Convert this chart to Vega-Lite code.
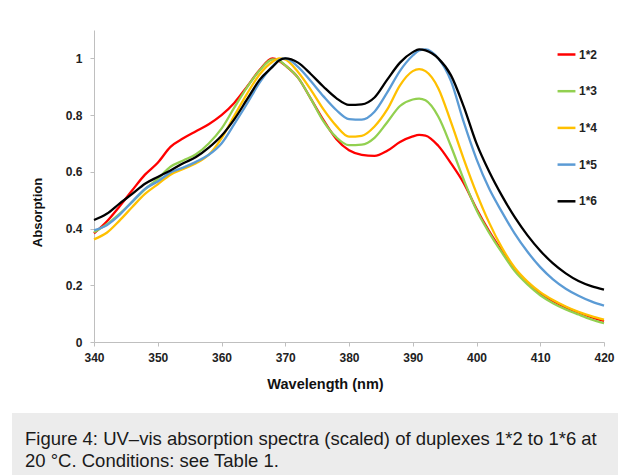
{
  "$schema": "https://vega.github.io/schema/vega-lite/v6.json",
  "background": "white",
  "padding": {"left": 12, "top": 30, "right": 0, "bottom": 0},
  "config": {"view": {"stroke": null}, "font": "Liberation Sans"},
  "spacing": 22,
  "resolve": {"scale": {"color": "independent"}, "legend": {"color": "independent"}},
  "vconcat": [
    {
      "spacing": 18,
      "resolve": {"scale": {"color": "independent"}, "legend": {"color": "independent"}},
      "hconcat": [
        {"width": 1, "height": 312, "data": {"values": []}, "mark": "point"},
        {
          "width": 510,
          "height": 312,
          "data": {"values": [
{"wavelength":340,"duplex":"1*2","absorption":0.383},{"wavelength":342,"duplex":"1*2","absorption":0.425},{"wavelength":344,"duplex":"1*2","absorption":0.478},{"wavelength":346,"duplex":"1*2","absorption":0.535},{"wavelength":348,"duplex":"1*2","absorption":0.59},{"wavelength":350,"duplex":"1*2","absorption":0.632},{"wavelength":352,"duplex":"1*2","absorption":0.688},{"wavelength":354,"duplex":"1*2","absorption":0.718},{"wavelength":356,"duplex":"1*2","absorption":0.743},{"wavelength":358,"duplex":"1*2","absorption":0.768},{"wavelength":360,"duplex":"1*2","absorption":0.8},{"wavelength":362,"duplex":"1*2","absorption":0.843},{"wavelength":364,"duplex":"1*2","absorption":0.9},{"wavelength":366,"duplex":"1*2","absorption":0.96},{"wavelength":368,"duplex":"1*2","absorption":1.0},{"wavelength":369,"duplex":"1*2","absorption":0.992},{"wavelength":370,"duplex":"1*2","absorption":0.975},{"wavelength":372,"duplex":"1*2","absorption":0.932},{"wavelength":374,"duplex":"1*2","absorption":0.858},{"wavelength":376,"duplex":"1*2","absorption":0.782},{"wavelength":378,"duplex":"1*2","absorption":0.716},{"wavelength":380,"duplex":"1*2","absorption":0.676},{"wavelength":382,"duplex":"1*2","absorption":0.66},{"wavelength":384,"duplex":"1*2","absorption":0.656},{"wavelength":386,"duplex":"1*2","absorption":0.674},{"wavelength":388,"duplex":"1*2","absorption":0.705},{"wavelength":390,"duplex":"1*2","absorption":0.725},{"wavelength":391,"duplex":"1*2","absorption":0.73},{"wavelength":392,"duplex":"1*2","absorption":0.728},{"wavelength":394,"duplex":"1*2","absorption":0.692},{"wavelength":396,"duplex":"1*2","absorption":0.63},{"wavelength":398,"duplex":"1*2","absorption":0.56},{"wavelength":400,"duplex":"1*2","absorption":0.47},{"wavelength":402,"duplex":"1*2","absorption":0.39},{"wavelength":404,"duplex":"1*2","absorption":0.32},{"wavelength":406,"duplex":"1*2","absorption":0.255},{"wavelength":408,"duplex":"1*2","absorption":0.208},{"wavelength":410,"duplex":"1*2","absorption":0.172},{"wavelength":412,"duplex":"1*2","absorption":0.145},{"wavelength":414,"duplex":"1*2","absorption":0.122},{"wavelength":416,"duplex":"1*2","absorption":0.104},{"wavelength":418,"duplex":"1*2","absorption":0.088},{"wavelength":420,"duplex":"1*2","absorption":0.074},
{"wavelength":340,"duplex":"1*3","absorption":0.387},{"wavelength":342,"duplex":"1*3","absorption":0.415},{"wavelength":344,"duplex":"1*3","absorption":0.452},{"wavelength":346,"duplex":"1*3","absorption":0.494},{"wavelength":348,"duplex":"1*3","absorption":0.538},{"wavelength":350,"duplex":"1*3","absorption":0.575},{"wavelength":352,"duplex":"1*3","absorption":0.618},{"wavelength":354,"duplex":"1*3","absorption":0.64},{"wavelength":356,"duplex":"1*3","absorption":0.662},{"wavelength":358,"duplex":"1*3","absorption":0.7},{"wavelength":360,"duplex":"1*3","absorption":0.752},{"wavelength":362,"duplex":"1*3","absorption":0.826},{"wavelength":364,"duplex":"1*3","absorption":0.898},{"wavelength":366,"duplex":"1*3","absorption":0.958},{"wavelength":368,"duplex":"1*3","absorption":0.996},{"wavelength":369,"duplex":"1*3","absorption":0.993},{"wavelength":370,"duplex":"1*3","absorption":0.975},{"wavelength":372,"duplex":"1*3","absorption":0.932},{"wavelength":374,"duplex":"1*3","absorption":0.858},{"wavelength":376,"duplex":"1*3","absorption":0.778},{"wavelength":378,"duplex":"1*3","absorption":0.722},{"wavelength":380,"duplex":"1*3","absorption":0.694},{"wavelength":382,"duplex":"1*3","absorption":0.696},{"wavelength":384,"duplex":"1*3","absorption":0.72},{"wavelength":386,"duplex":"1*3","absorption":0.775},{"wavelength":388,"duplex":"1*3","absorption":0.832},{"wavelength":390,"duplex":"1*3","absorption":0.855},{"wavelength":391,"duplex":"1*3","absorption":0.858},{"wavelength":392,"duplex":"1*3","absorption":0.852},{"wavelength":394,"duplex":"1*3","absorption":0.795},{"wavelength":396,"duplex":"1*3","absorption":0.69},{"wavelength":398,"duplex":"1*3","absorption":0.572},{"wavelength":400,"duplex":"1*3","absorption":0.465},{"wavelength":402,"duplex":"1*3","absorption":0.385},{"wavelength":404,"duplex":"1*3","absorption":0.315},{"wavelength":406,"duplex":"1*3","absorption":0.25},{"wavelength":408,"duplex":"1*3","absorption":0.203},{"wavelength":410,"duplex":"1*3","absorption":0.165},{"wavelength":412,"duplex":"1*3","absorption":0.137},{"wavelength":414,"duplex":"1*3","absorption":0.115},{"wavelength":416,"duplex":"1*3","absorption":0.097},{"wavelength":418,"duplex":"1*3","absorption":0.08},{"wavelength":420,"duplex":"1*3","absorption":0.066},
{"wavelength":340,"duplex":"1*4","absorption":0.362},{"wavelength":342,"duplex":"1*4","absorption":0.385},{"wavelength":344,"duplex":"1*4","absorption":0.428},{"wavelength":346,"duplex":"1*4","absorption":0.476},{"wavelength":348,"duplex":"1*4","absorption":0.522},{"wavelength":350,"duplex":"1*4","absorption":0.556},{"wavelength":352,"duplex":"1*4","absorption":0.59},{"wavelength":354,"duplex":"1*4","absorption":0.61},{"wavelength":356,"duplex":"1*4","absorption":0.63},{"wavelength":358,"duplex":"1*4","absorption":0.66},{"wavelength":360,"duplex":"1*4","absorption":0.718},{"wavelength":362,"duplex":"1*4","absorption":0.797},{"wavelength":364,"duplex":"1*4","absorption":0.875},{"wavelength":366,"duplex":"1*4","absorption":0.944},{"wavelength":368,"duplex":"1*4","absorption":0.988},{"wavelength":369,"duplex":"1*4","absorption":1.0},{"wavelength":370,"duplex":"1*4","absorption":0.996},{"wavelength":372,"duplex":"1*4","absorption":0.952},{"wavelength":374,"duplex":"1*4","absorption":0.89},{"wavelength":376,"duplex":"1*4","absorption":0.82},{"wavelength":378,"duplex":"1*4","absorption":0.762},{"wavelength":380,"duplex":"1*4","absorption":0.724},{"wavelength":382,"duplex":"1*4","absorption":0.727},{"wavelength":384,"duplex":"1*4","absorption":0.76},{"wavelength":386,"duplex":"1*4","absorption":0.82},{"wavelength":388,"duplex":"1*4","absorption":0.905},{"wavelength":390,"duplex":"1*4","absorption":0.955},{"wavelength":391,"duplex":"1*4","absorption":0.962},{"wavelength":392,"duplex":"1*4","absorption":0.955},{"wavelength":394,"duplex":"1*4","absorption":0.895},{"wavelength":396,"duplex":"1*4","absorption":0.775},{"wavelength":398,"duplex":"1*4","absorption":0.645},{"wavelength":400,"duplex":"1*4","absorption":0.525},{"wavelength":402,"duplex":"1*4","absorption":0.42},{"wavelength":404,"duplex":"1*4","absorption":0.332},{"wavelength":406,"duplex":"1*4","absorption":0.262},{"wavelength":408,"duplex":"1*4","absorption":0.213},{"wavelength":410,"duplex":"1*4","absorption":0.176},{"wavelength":412,"duplex":"1*4","absorption":0.148},{"wavelength":414,"duplex":"1*4","absorption":0.125},{"wavelength":416,"duplex":"1*4","absorption":0.106},{"wavelength":418,"duplex":"1*4","absorption":0.091},{"wavelength":420,"duplex":"1*4","absorption":0.079},
{"wavelength":340,"duplex":"1*5","absorption":0.394},{"wavelength":342,"duplex":"1*5","absorption":0.412},{"wavelength":344,"duplex":"1*5","absorption":0.448},{"wavelength":346,"duplex":"1*5","absorption":0.495},{"wavelength":348,"duplex":"1*5","absorption":0.54},{"wavelength":350,"duplex":"1*5","absorption":0.566},{"wavelength":352,"duplex":"1*5","absorption":0.598},{"wavelength":354,"duplex":"1*5","absorption":0.615},{"wavelength":356,"duplex":"1*5","absorption":0.635},{"wavelength":358,"duplex":"1*5","absorption":0.66},{"wavelength":360,"duplex":"1*5","absorption":0.7},{"wavelength":362,"duplex":"1*5","absorption":0.768},{"wavelength":364,"duplex":"1*5","absorption":0.84},{"wavelength":366,"duplex":"1*5","absorption":0.915},{"wavelength":368,"duplex":"1*5","absorption":0.972},{"wavelength":369,"duplex":"1*5","absorption":0.993},{"wavelength":370,"duplex":"1*5","absorption":1.0},{"wavelength":372,"duplex":"1*5","absorption":0.97},{"wavelength":374,"duplex":"1*5","absorption":0.92},{"wavelength":376,"duplex":"1*5","absorption":0.866},{"wavelength":378,"duplex":"1*5","absorption":0.818},{"wavelength":380,"duplex":"1*5","absorption":0.786},{"wavelength":382,"duplex":"1*5","absorption":0.784},{"wavelength":384,"duplex":"1*5","absorption":0.812},{"wavelength":386,"duplex":"1*5","absorption":0.88},{"wavelength":388,"duplex":"1*5","absorption":0.956},{"wavelength":390,"duplex":"1*5","absorption":1.01},{"wavelength":391,"duplex":"1*5","absorption":1.028},{"wavelength":392,"duplex":"1*5","absorption":1.032},{"wavelength":394,"duplex":"1*5","absorption":1.0},{"wavelength":396,"duplex":"1*5","absorption":0.92},{"wavelength":398,"duplex":"1*5","absorption":0.775},{"wavelength":400,"duplex":"1*5","absorption":0.645},{"wavelength":402,"duplex":"1*5","absorption":0.54},{"wavelength":404,"duplex":"1*5","absorption":0.458},{"wavelength":406,"duplex":"1*5","absorption":0.382},{"wavelength":408,"duplex":"1*5","absorption":0.318},{"wavelength":410,"duplex":"1*5","absorption":0.264},{"wavelength":412,"duplex":"1*5","absorption":0.221},{"wavelength":414,"duplex":"1*5","absorption":0.188},{"wavelength":416,"duplex":"1*5","absorption":0.163},{"wavelength":418,"duplex":"1*5","absorption":0.143},{"wavelength":420,"duplex":"1*5","absorption":0.128},
{"wavelength":340,"duplex":"1*6","absorption":0.43},{"wavelength":342,"duplex":"1*6","absorption":0.452},{"wavelength":344,"duplex":"1*6","absorption":0.488},{"wavelength":346,"duplex":"1*6","absorption":0.522},{"wavelength":348,"duplex":"1*6","absorption":0.558},{"wavelength":350,"duplex":"1*6","absorption":0.582},{"wavelength":352,"duplex":"1*6","absorption":0.605},{"wavelength":354,"duplex":"1*6","absorption":0.63},{"wavelength":356,"duplex":"1*6","absorption":0.652},{"wavelength":358,"duplex":"1*6","absorption":0.685},{"wavelength":360,"duplex":"1*6","absorption":0.727},{"wavelength":362,"duplex":"1*6","absorption":0.785},{"wavelength":364,"duplex":"1*6","absorption":0.855},{"wavelength":366,"duplex":"1*6","absorption":0.925},{"wavelength":368,"duplex":"1*6","absorption":0.97},{"wavelength":369,"duplex":"1*6","absorption":0.992},{"wavelength":370,"duplex":"1*6","absorption":1.0},{"wavelength":372,"duplex":"1*6","absorption":0.985},{"wavelength":374,"duplex":"1*6","absorption":0.945},{"wavelength":376,"duplex":"1*6","absorption":0.9},{"wavelength":378,"duplex":"1*6","absorption":0.86},{"wavelength":380,"duplex":"1*6","absorption":0.836},{"wavelength":382,"duplex":"1*6","absorption":0.838},{"wavelength":384,"duplex":"1*6","absorption":0.862},{"wavelength":386,"duplex":"1*6","absorption":0.925},{"wavelength":388,"duplex":"1*6","absorption":0.985},{"wavelength":390,"duplex":"1*6","absorption":1.022},{"wavelength":391,"duplex":"1*6","absorption":1.032},{"wavelength":392,"duplex":"1*6","absorption":1.028},{"wavelength":394,"duplex":"1*6","absorption":1.0},{"wavelength":396,"duplex":"1*6","absorption":0.94},{"wavelength":398,"duplex":"1*6","absorption":0.83},{"wavelength":400,"duplex":"1*6","absorption":0.7},{"wavelength":402,"duplex":"1*6","absorption":0.6},{"wavelength":404,"duplex":"1*6","absorption":0.515},{"wavelength":406,"duplex":"1*6","absorption":0.44},{"wavelength":408,"duplex":"1*6","absorption":0.376},{"wavelength":410,"duplex":"1*6","absorption":0.322},{"wavelength":412,"duplex":"1*6","absorption":0.277},{"wavelength":414,"duplex":"1*6","absorption":0.242},{"wavelength":416,"duplex":"1*6","absorption":0.215},{"wavelength":418,"duplex":"1*6","absorption":0.197},{"wavelength":420,"duplex":"1*6","absorption":0.185}
          ]},
          "mark": {"type": "line", "interpolate": "monotone", "strokeWidth": 2.3},
          "encoding": {
            "x": {
              "field": "wavelength", "type": "quantitative",
              "scale": {"domain": [340, 420], "nice": false, "zero": false},
              "axis": {
                "title": "Wavelength (nm)", "values": [340, 350, 360, 370, 380, 390, 400, 410, 420],
                "grid": false, "domainColor": "#bfbfbf", "tickColor": "#bfbfbf", "tickSize": 4, "labelFlush": false,
                "labelFont": "Liberation Sans", "labelFontSize": 12, "labelFontWeight": "bold", "labelColor": "#222222",
                "labelPadding": 6, "titleFont": "Liberation Sans", "titleFontSize": 14.5, "titleFontWeight": "bold",
                "titleColor": "#111111", "titlePadding": 14, "titleX": 231, "titleAlign": "center"
              }
            },
            "y": {
              "field": "absorption", "type": "quantitative",
              "scale": {"domain": [0, 1.1], "nice": false},
              "axis": {
                "title": "Absorption", "values": [0, 0.2, 0.4, 0.6, 0.8, 1], "format": "~g", "labelFlush": false,
                "grid": false, "domainColor": "#bfbfbf", "tickColor": "#bfbfbf", "tickSize": 4,
                "labelFont": "Liberation Sans", "labelFontSize": 12, "labelFontWeight": "bold", "labelColor": "#222222",
                "labelPadding": 8, "titleFont": "Liberation Sans", "titleFontSize": 13, "titleFontWeight": "bold",
                "titleColor": "#111111", "titlePadding": 21, "titleY": 182, "titleAlign": "center"
              }
            },
            "color": {
              "field": "duplex", "type": "nominal",
              "scale": {"domain": ["1*2", "1*3", "1*4", "1*5", "1*6"], "range": ["#ff0000", "#92d050", "#ffc000", "#5b9bd5", "#000000"]},
              "legend": {
                "title": null, "orient": "none", "legendX": 462, "legendY": 14,
                "symbolType": "stroke", "symbolSize": 320, "symbolStrokeWidth": 2.5,
                "labelFont": "Liberation Sans", "labelFontSize": 12, "labelFontWeight": "bold", "labelColor": "#222222",
                "labelOffset": 2, "rowPadding": 19.7, "padding": 0
              }
            }
          }
        }
      ]
    },
    {
      "width": 606,
      "height": 62,
      "view": {"fill": "#ececec", "stroke": null},
      "data": {"values": [{"note": ""}]},
      "mark": {"type": "text"},
      "encoding": {"text": {"field": "note"}},
      "title": {
        "text": ["Figure 4: UV–vis absorption spectra (scaled) of duplexes 1*2 to 1*6 at", "20 °C. Conditions: see Table 1."],
        "orient": "bottom", "anchor": "start", "frame": "group", "offset": -45, "dx": 13,
        "font": "Liberation Sans", "fontSize": 18.5, "fontWeight": "normal", "color": "#1a1a1a", "lineHeight": 22
      }
    }
  ]
}
